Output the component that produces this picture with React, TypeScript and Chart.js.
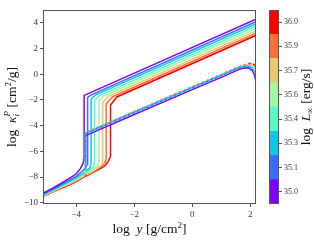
import React, { useEffect, useRef } from "react";
import { Chart, registerables } from "chart.js";
Chart.register(...registerables);

// colour bins (log L_inf) and their colours
const L_LABELS = ["35.0", "35.1", "35.3", "35.4", "35.6", "35.7", "35.9", "36.0"];
const COLORS = ["#8000ff", "#376ff9", "#12c7e6", "#5bf9c7", "#a4f99f", "#edc76f", "#ff6f39", "#ff0000"];

const X_TICKS = [-4, -2, 0, 2];
const Y_TICKS = [-10, -8, -6, -4, -2, 0, 2, 4];

// solid curves (one per luminosity)
const S0_X = [-5.15, -4.8, -4.5, -4.2, -4.0, -3.86, -3.76, -3.73, -3.73, 2.2];
const S0_Y = [-9.28, -8.85, -8.45, -8.05, -7.75, -7.35, -6.9, -6.5, -1.65, 4.28];
const S1_X = [-5.15, -4.8, -4.5, -4.2, -4.0, -3.8, -3.68, -3.63, -3.61, -3.61, -3.5, 2.2];
const S1_Y = [-9.33, -8.93, -8.55, -8.2, -7.95, -7.55, -7.3, -7.0, -6.6, -1.8, -1.62, 4.1];
const S2_X = [-5.15, -4.8, -4.5, -4.2, -4.0, -3.8, -3.6, -3.52, -3.49, -3.49, -3.35, 2.2];
const S2_Y = [-9.37, -8.99, -8.62, -8.3, -8.05, -7.75, -7.42, -7.25, -6.8, -1.95, -1.63, 3.92];
const S3_X = [-5.15, -4.8, -4.5, -4.2, -4.0, -3.8, -3.6, -3.42, -3.37, -3.37, -3.2, 2.2];
const S3_Y = [-9.4, -9.04, -8.67, -8.37, -8.12, -7.85, -7.55, -7.25, -6.8, -2.05, -1.66, 3.74];
const S4_X = [-5.15, -4.8, -4.5, -4.2, -4.0, -3.8, -3.6, -3.4, -3.27, -3.22, -3.22, -3.05, 2.2];
const S4_Y = [-9.43, -9.07, -8.72, -8.43, -8.18, -7.92, -7.68, -7.4, -7.2, -6.8, -2.1, -1.69, 3.56];
const S5_X = [-5.15, -4.8, -4.5, -4.2, -4.0, -3.8, -3.6, -3.4, -3.2, -3.12, -3.09, -3.09, -2.9, 2.2];
const S5_Y = [-9.46, -9.1, -8.76, -8.48, -8.24, -7.98, -7.75, -7.5, -7.2, -7.05, -6.7, -2.2, -1.72, 3.38];
const S6_X = [-5.15, -4.8, -4.5, -4.2, -4.0, -3.8, -3.6, -3.4, -3.2, -3.02, -2.97, -2.97, -2.75, 2.2];
const S6_Y = [-9.48, -9.13, -8.8, -8.52, -8.3, -8.03, -7.8, -7.58, -7.3, -6.9, -6.6, -2.3, -1.75, 3.2];
const S7_X = [-5.15, -4.8, -4.5, -4.2, -4.0, -3.8, -3.6, -3.4, -3.2, -3.0, -2.88, -2.82, -2.82, -2.6, 2.2];
const S7_Y = [-9.5, -9.15, -8.85, -8.56, -8.35, -8.08, -7.85, -7.62, -7.38, -7.1, -6.7, -6.4, -2.4, -1.77, 3.03];

// lower branch, solid purple
const LB_X = [-3.72, -2.0, 0.0, 1.0, 1.6, 1.75, 1.9, 2.0, 2.08, 2.14, 2.18, 2.2];
const LB_Y = [-4.82, -3.13, -1.2, -0.24, 0.36, 0.46, 0.5, 0.42, 0.25, -0.05, -0.35, -0.6];

// lower branch, dashed (colours 1..7)
const D_X = [-3.68, -3.68, -2.0, 0.0, 1.0, 1.6, 1.85, 2.0, 2.1, 2.2];
const D1_Y = [-7.3, -4.62, -2.98, -1.05, -0.1, 0.48, 0.62, 0.55, 0.3, -0.35];
const D2_Y = [-7.5, -4.6, -2.96, -1.03, -0.08, 0.5, 0.65, 0.6, 0.4, -0.1];
const D3_Y = [-7.65, -4.58, -2.95, -1.02, -0.07, 0.52, 0.68, 0.65, 0.5, 0.1];
const D4_Y = [-7.75, -4.57, -2.94, -1.01, -0.06, 0.54, 0.7, 0.7, 0.58, 0.25];
const D5_Y = [-7.8, -4.56, -2.93, -1.0, -0.05, 0.55, 0.72, 0.75, 0.66, 0.4];
const D6_Y = [-7.88, -4.55, -2.92, -0.99, -0.04, 0.56, 0.74, 0.8, 0.75, 0.5];
const D7_Y = [-7.93, -4.54, -2.91, -0.98, -0.03, 0.57, 0.75, 0.85, 0.8, 0.6];

const SOLIDS = [
  [S0_X, S0_Y], [S1_X, S1_Y], [S2_X, S2_Y], [S3_X, S3_Y],
  [S4_X, S4_Y], [S5_X, S5_Y], [S6_X, S6_Y], [S7_X, S7_Y],
];
const DASHED = [D1_Y, D2_Y, D3_Y, D4_Y, D5_Y, D6_Y, D7_Y];

const FONT = '"Liberation Serif", "DejaVu Serif", serif';
const TS = 13.5;
const SS = 9;

const pts = (xs: number[], ys: number[]) => xs.map((x, i) => ({ x, y: ys[i] }));
const fmt = (v: number) => (v < 0 ? "\u2212" + Math.abs(v) : String(v));

type Seg = { t: string; size: number; italic?: boolean; dy?: number; noAdv?: boolean };

function drawSegs(ctx: CanvasRenderingContext2D, segs: Seg[], cx: number, cy: number, rot: number) {
  ctx.save();
  ctx.translate(cx, cy);
  ctx.rotate(rot);
  ctx.fillStyle = "#111";
  ctx.textBaseline = "alphabetic";
  const widths = segs.map((s) => {
    ctx.font = `${s.italic ? "italic " : ""}${s.size}px ${FONT}`;
    return ctx.measureText(s.t).width;
  });
  let total = 0;
  segs.forEach((s, i) => { if (!s.noAdv) total += widths[i]; });
  let x = -total / 2;
  segs.forEach((s, i) => {
    ctx.font = `${s.italic ? "italic " : ""}${s.size}px ${FONT}`;
    ctx.fillText(s.t, x, 4 + (s.dy || 0));
    if (!s.noAdv) x += widths[i];
  });
  ctx.restore();
}

const framePlugin = {
  id: "frame",
  afterDraw(chart: any) {
    const { ctx, chartArea: a } = chart;
    ctx.save();
    ctx.strokeStyle = "#555";
    ctx.lineWidth = 1;
    ctx.strokeRect(Math.round(a.left) + 0.5, Math.round(a.top) + 0.5, Math.round(a.right - a.left) - 1, Math.round(a.bottom - a.top) - 1);
    ctx.restore();
  },
};

const mainTitles = {
  id: "mainTitles",
  afterDraw(chart: any) {
    const { ctx, chartArea: a } = chart;
    drawSegs(ctx, [
      { t: "log  ", size: TS },
      { t: "y", size: TS, italic: true },
      { t: " [g/cm", size: TS },
      { t: "2", size: SS, dy: -5 },
      { t: "]", size: TS },
    ], (a.left + a.right) / 2, 229, 0);
    drawSegs(ctx, [
      { t: "log  ", size: TS },
      { t: "\u03ba", size: TS, italic: true },
      { t: "i", size: SS, italic: true, dy: 3, noAdv: true },
      { t: "P", size: SS, italic: true, dy: -6 },
      { t: " [cm", size: TS },
      { t: "2", size: SS, dy: -5 },
      { t: "/g]", size: TS },
    ], 12, (a.top + a.bottom) / 2, -Math.PI / 2);
  },
};

const cbTitle = {
  id: "cbTitle",
  afterDraw(chart: any) {
    const { ctx, chartArea: a } = chart;
    drawSegs(ctx, [
      { t: "log  ", size: TS },
      { t: "L", size: TS, italic: true },
      { t: "\u221e", size: SS, dy: 3 },
      { t: " [erg/s]", size: TS },
    ], 306, (a.top + a.bottom) / 2, -Math.PI / 2);
  },
};

export default function App() {
  const mainRef = useRef<HTMLCanvasElement>(null);
  const cbRef = useRef<HTMLCanvasElement>(null);

  useEffect(() => {
    const datasets: any[] = [];
    SOLIDS.forEach(([xs, ys], i) => {
      datasets.push({
        data: pts(xs, ys), borderColor: COLORS[i], borderWidth: 1.5,
        pointRadius: 0, showLine: true, fill: false, order: 10 + i,
      });
    });
    datasets.push({
      data: pts(LB_X, LB_Y), borderColor: COLORS[0], borderWidth: 1.5,
      pointRadius: 0, showLine: true, fill: false, order: 5,
    });
    DASHED.forEach((ys, k) => {
      const ci = k + 1;
      datasets.push({
        data: pts(D_X, ys), borderColor: COLORS[ci], borderWidth: 1.5,
        borderDash: [3, 2], pointRadius: 0, showLine: true, fill: false,
        order: ci === 2 ? 0 : ci === 1 ? 1 : 2 + ci,
      });
    });

    const main = new Chart(mainRef.current!, {
      type: "scatter",
      data: { datasets },
      options: {
        animation: false,
        responsive: false,
        devicePixelRatio: 1,
        layout: { padding: { left: 0, right: 58, top: 10, bottom: 0 } },
        plugins: { legend: { display: false }, tooltip: { enabled: false } },
        elements: { line: { tension: 0 } },
        scales: {
          x: {
            type: "linear", min: -5.15, max: 2.2,
            afterBuildTicks: (s: any) => { s.ticks = X_TICKS.map((v) => ({ value: v })); },
            afterFit: (s: any) => { s.height = 41; },
            ticks: { callback: (v: any) => fmt(v), font: { family: FONT, size: 9 }, color: "#333", padding: 2, maxRotation: 0 },
            grid: { drawOnChartArea: false, drawTicks: true, tickLength: 3, color: "#555" },
            border: { display: false },
          },
          y: {
            type: "linear", min: -10.1, max: 5,
            afterBuildTicks: (s: any) => { s.ticks = Y_TICKS.map((v) => ({ value: v })); },
            afterFit: (s: any) => { s.width = 43; },
            ticks: { callback: (v: any) => fmt(v), font: { family: FONT, size: 9 }, color: "#333", padding: 2 },
            grid: { drawOnChartArea: false, drawTicks: true, tickLength: 3, color: "#555" },
            border: { display: false },
          },
        },
      } as any,
      plugins: [framePlugin, mainTitles],
    });

    const cb = new Chart(cbRef.current!, {
      type: "bar",
      data: {
        labels: ["L"],
        datasets: COLORS.map((c) => ({
          data: [1], backgroundColor: c, borderWidth: 0,
          barPercentage: 1, categoryPercentage: 1,
        })),
      },
      options: {
        animation: false,
        responsive: false,
        devicePixelRatio: 1,
        layout: { padding: { left: 269, right: 0, top: 10, bottom: 41 } },
        plugins: { legend: { display: false }, tooltip: { enabled: false } },
        scales: {
          x: { stacked: true, display: false },
          y: {
            stacked: true, min: 0, max: L_LABELS.length, position: "right",
            afterBuildTicks: (s: any) => { s.ticks = L_LABELS.map((_, i) => ({ value: i + 0.5 })); },
            afterFit: (s: any) => { s.width = 35; },
            ticks: { callback: (_v: any, i: number) => L_LABELS[i], font: { family: FONT, size: 8 }, color: "#333", padding: 2 },
            grid: { drawOnChartArea: false, drawTicks: true, tickLength: 3, color: "#555" },
            border: { display: false },
          },
        },
      } as any,
      plugins: [framePlugin, cbTitle],
    });

    return () => { main.destroy(); cb.destroy(); };
  }, []);

  return (
    <div style={{ position: "absolute", left: 0, top: 0, width: 314, height: 245, background: "#fff" }}>
      <canvas ref={mainRef} width={314} height={245} style={{ position: "absolute", left: 0, top: 0 }} />
      <canvas ref={cbRef} width={314} height={245} style={{ position: "absolute", left: 0, top: 0 }} />
    </div>
  );
}
